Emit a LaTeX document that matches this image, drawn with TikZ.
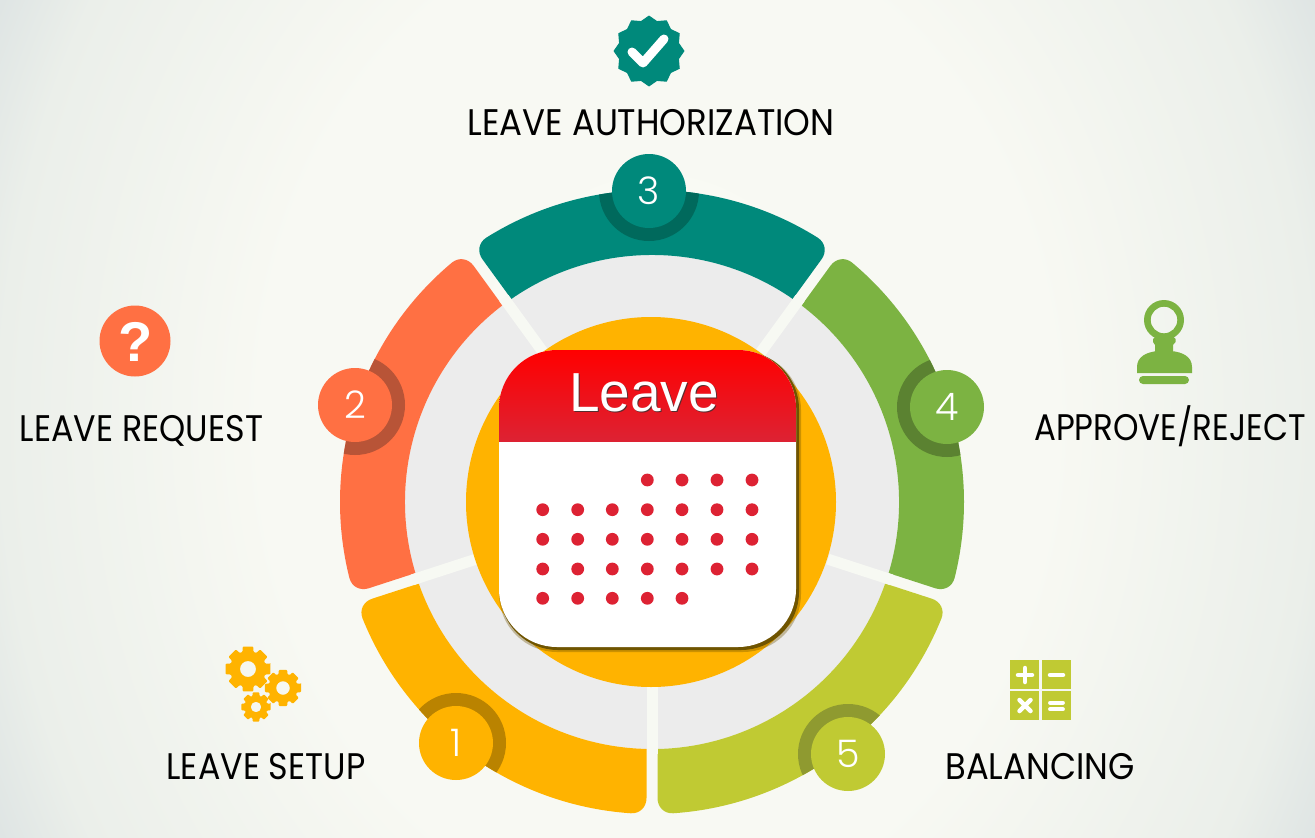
\documentclass[tikz,border=0pt]{standalone}
\usepackage{fontspec}
\usetikzlibrary{calc}
\setmainfont{Liberation Sans}
\newfontfamily\labfont[FakeStretch=0.9]{Poppins}
\newfontfamily\digfont{Poppins Light}
\definecolor{cteal}{HTML}{00897B}
\definecolor{corange}{HTML}{FF7043}
\definecolor{camber}{HTML}{FFB300}
\definecolor{cgreen}{HTML}{7CB342}
\definecolor{clime}{HTML}{C0CA33}
\definecolor{rteal}{HTML}{00695C}
\definecolor{rorange}{HTML}{B85437}
\definecolor{ramber}{HTML}{BA8300}
\definecolor{rgreen}{HTML}{5B8231}
\definecolor{rlime}{HTML}{8F9A30}
\definecolor{cgrey}{HTML}{ECECEC}
\definecolor{cgap}{HTML}{F7F9F3}
\definecolor{bga}{HTML}{F9FAF4}
\definecolor{bgb}{HTML}{F8F9F3}
\definecolor{bgc}{HTML}{EBEFEA}
\definecolor{bgd}{HTML}{DFE5E4}
\definecolor{calred}{HTML}{DD2233}
\definecolor{calshadow}{HTML}{6F5400}
\pgfdeclareradialshading{bgshade}{\pgfpoint{0bp}{0bp}}{color(0bp)=(bga); color(15bp)=(bgb); color(25bp)=(bgc); color(28bp)=(bgd); color(50bp)=(bgd)}
\pgfdeclareverticalshading{headshade}{100bp}{color(0bp)=(calred); color(25bp)=(calred); color(75bp)=(red); color(100bp)=(red)}
\tikzset{
  badge/.style={circle,inner sep=0pt,minimum size=74pt,text=white,font=\digfont\fontsize{38}{38}\selectfont},
  steplabel/.style={anchor=base,text=black,inner sep=0pt,font=\labfont\fontsize{37}{37}\selectfont},
  gapline/.style={cgap,line width=11pt},
  dot/.style={fill=calred},
}
\newcommand{\segpath}[2]{%
  ($(o)+(#1:247)+(#1+90:5.5)$) -- ($(o)+(#1:296)+(#1+90:5.5)$)
  .. controls ($(o)+(#1:305)+(#1+90:5.5)$) and ($(o)+(#1+2.2:312)$) .. ($(o)+(#1+3.9:312)$)
  arc[start angle=#1+3.9,end angle=#2-3.9,radius=312]
  .. controls ($(o)+(#2-2.2:312)$) and ($(o)+(#2:305)+(#2-90:5.5)$) .. ($(o)+(#2:296)+(#2-90:5.5)$)
  -- ($(o)+(#2:247)+(#2-90:5.5)$)
  arc[start angle=#2-1.28,end angle=#1+1.28,radius=247] -- cycle}
\newcommand{\gearicon}[5]{%
  \fill[camber,even odd rule,rounded corners=0.8pt,shift={(#1,#2)}]
   (-13:#3) \foreach \a in {0,45,...,315}{ -- (\a-13:#3) -- (\a+13:#3) -- (\a+18:#4) -- (\a+27:#4) } -- cycle
   (0,0) circle[radius=#5];}
\begin{document}
\begin{tikzpicture}[x=1pt,y=-1pt]
\useasboundingbox (0,0) rectangle (1315,838);
\coordinate (o) at (652,502);
\begin{scope}
  \clip (0,0) rectangle (1315,838);
  \shade[shading=bgshade] (0,-400) rectangle (1315,1238);
\end{scope}
\fill[cgrey] (o) circle[radius=247];
\fill[camber] \segpath{90}{162};
\fill[corange] \segpath{162}{234};
\fill[cteal] \segpath{234}{306};
\fill[cgreen] \segpath{306}{378};
\fill[clime] \segpath{18}{90};
\coordinate (g1) at ($(o)+(90:185)$);  \coordinate (h1) at ($(o)+(90:252)$);
\coordinate (g2) at ($(o)+(162:185)$); \coordinate (h2) at ($(o)+(162:252)$);
\coordinate (g3) at ($(o)+(234:185)$); \coordinate (h3) at ($(o)+(234:252)$);
\coordinate (g4) at ($(o)+(306:185)$); \coordinate (h4) at ($(o)+(306:252)$);
\coordinate (g5) at ($(o)+(18:185)$);  \coordinate (h5) at ($(o)+(18:252)$);
\foreach \i in {1,...,5}{\draw[gapline] (g\i) -- (h\i);}
\begin{scope}\clip \segpath{90}{162};\fill[ramber] (456,743) circle[radius=50];\end{scope}
\begin{scope}\clip \segpath{162}{234};\fill[rorange] (355,405) circle[radius=50];\end{scope}
\begin{scope}\clip \segpath{234}{306};\fill[rteal] (649,191) circle[radius=50];\end{scope}
\begin{scope}\clip \segpath{306}{378};\fill[rgreen] (947,407) circle[radius=50];\end{scope}
\begin{scope}\clip \segpath{18}{90};\fill[rlime] (848,754) circle[radius=50];\end{scope}
\node[badge,fill=camber]  (b1) at (456,743) {1};
\node[badge,fill=corange] (b2) at (355,405) {2};
\node[badge,fill=cteal]   (b3) at (649,191) {3};
\node[badge,fill=cgreen]  (b4) at (947,407) {4};
\node[badge,fill=clime]   (b5) at (848,754) {5};
\fill[camber] (651,502) circle[radius=185];
\fill[calshadow,opacity=.35,rounded corners=58pt] (499,352) rectangle (801,652);
\fill[calshadow,rounded corners=58pt] (500,351) rectangle (799,650);
\fill[white,rounded corners=58pt] (499,350) rectangle (796,647);
\begin{scope}
  \clip[rounded corners=58pt] (499,350) rectangle (796,647);
  \shade[shading=headshade] (499,350) rectangle (796,441);
\end{scope}
\foreach \y in {509.7,539.3,569}{\foreach \x in {542.7,577.7,612.3,647.3,682,717,752}{\fill[dot] (\x,\y) circle[radius=6.4];}}
\foreach \x in {647.3,682,717,752}{\fill[dot] (\x,480) circle[radius=6.4];}
\foreach \x in {542.7,577.7,612.3,647.3,682}{\fill[dot] (\x,598.3) circle[radius=6.4];}
\node[anchor=base,inner sep=0pt,text=black!80,opacity=.8,font=\fontsize{55}{55}\selectfont] (leaveshadow) at (645,412) {Leave};
\node[anchor=base,inner sep=0pt,text=white,font=\fontsize{55}{55}\selectfont] (leave) at (644,411) {Leave};
\node[steplabel] (l3) at (651,135) {\scalebox{1.022}[1]{LEAVE AUTHORIZATION}};
\node[steplabel] (l2) at (141.5,441) {LEAVE REQUEST};
\node[steplabel] (l4) at (1170,440) {\scalebox{0.975}[1]{APPROVE/REJECT}};
\node[steplabel] (l1) at (266,779) {LEAVE SETUP};
\node[steplabel] (l5) at (1040,779) {\scalebox{1.015}[1]{BALANCING}};
\coordinate (chk) at (649,51);
\fill[cteal] ($(chk)+(0:35.5)$)
  \foreach \a in {0,30,...,330}{ -- ($(chk)+(\a:35.5)$) -- ($(chk)+(\a+15:31)$) } -- cycle;
\draw[white,line width=9pt,line cap=round,line join=round] (632,52) -- (643,63) -- (664,39);
\fill[corange] (135,341) circle[radius=35.5];
\node[anchor=base,inner sep=0pt,text=white,font=\bfseries\fontsize{56}{56}\selectfont] (qmark) at (135.5,361) {?};
\fill[cgreen,even odd rule] (1164,320) circle[radius=20] (1164,320) circle[radius=13.3];
\fill[cgreen] (1157,335) -- (1172,335) -- (1175.5,339) -- (1175.5,342) -- (1173,345) -- (1173,352) -- (1155,352) -- (1155,345) -- (1153,342) -- (1153,339) -- cycle;
\fill[cgreen] (1137,373) -- (1137,367) .. controls (1137,357) and (1146,352) .. (1158,351) -- (1171,351) .. controls (1183,352) and (1192,357) .. (1192,367) -- (1192,373) -- cycle;
\fill[cgreen,rounded corners=4pt] (1139,376) rectangle (1189,384);
\gearicon{248}{669}{23}{18}{8}
\gearicon{283}{688}{18.5}{14.5}{6.8}
\gearicon{256}{707}{15}{11.5}{5.3}
\fill[clime] (1010,660) rectangle (1039,689);
\fill[clime] (1041.7,660) rectangle (1070.7,689);
\fill[clime] (1010,691) rectangle (1039,720);
\fill[clime] (1041.7,691) rectangle (1070.7,720);
\draw[white,line width=4.5pt,line cap=round] (1018,675) -- (1032,675) (1025,668) -- (1025,682);
\draw[white,line width=4.5pt,line cap=round] (1050,675) -- (1063,675);
\draw[white,line width=4.5pt,line cap=round] (1019.5,700) -- (1030.5,711) (1030.5,700) -- (1019.5,711);
\draw[white,line width=3.8pt,line cap=round] (1050,702.7) -- (1063,702.7) (1050,709.3) -- (1063,709.3);
\end{tikzpicture}
\end{document}
